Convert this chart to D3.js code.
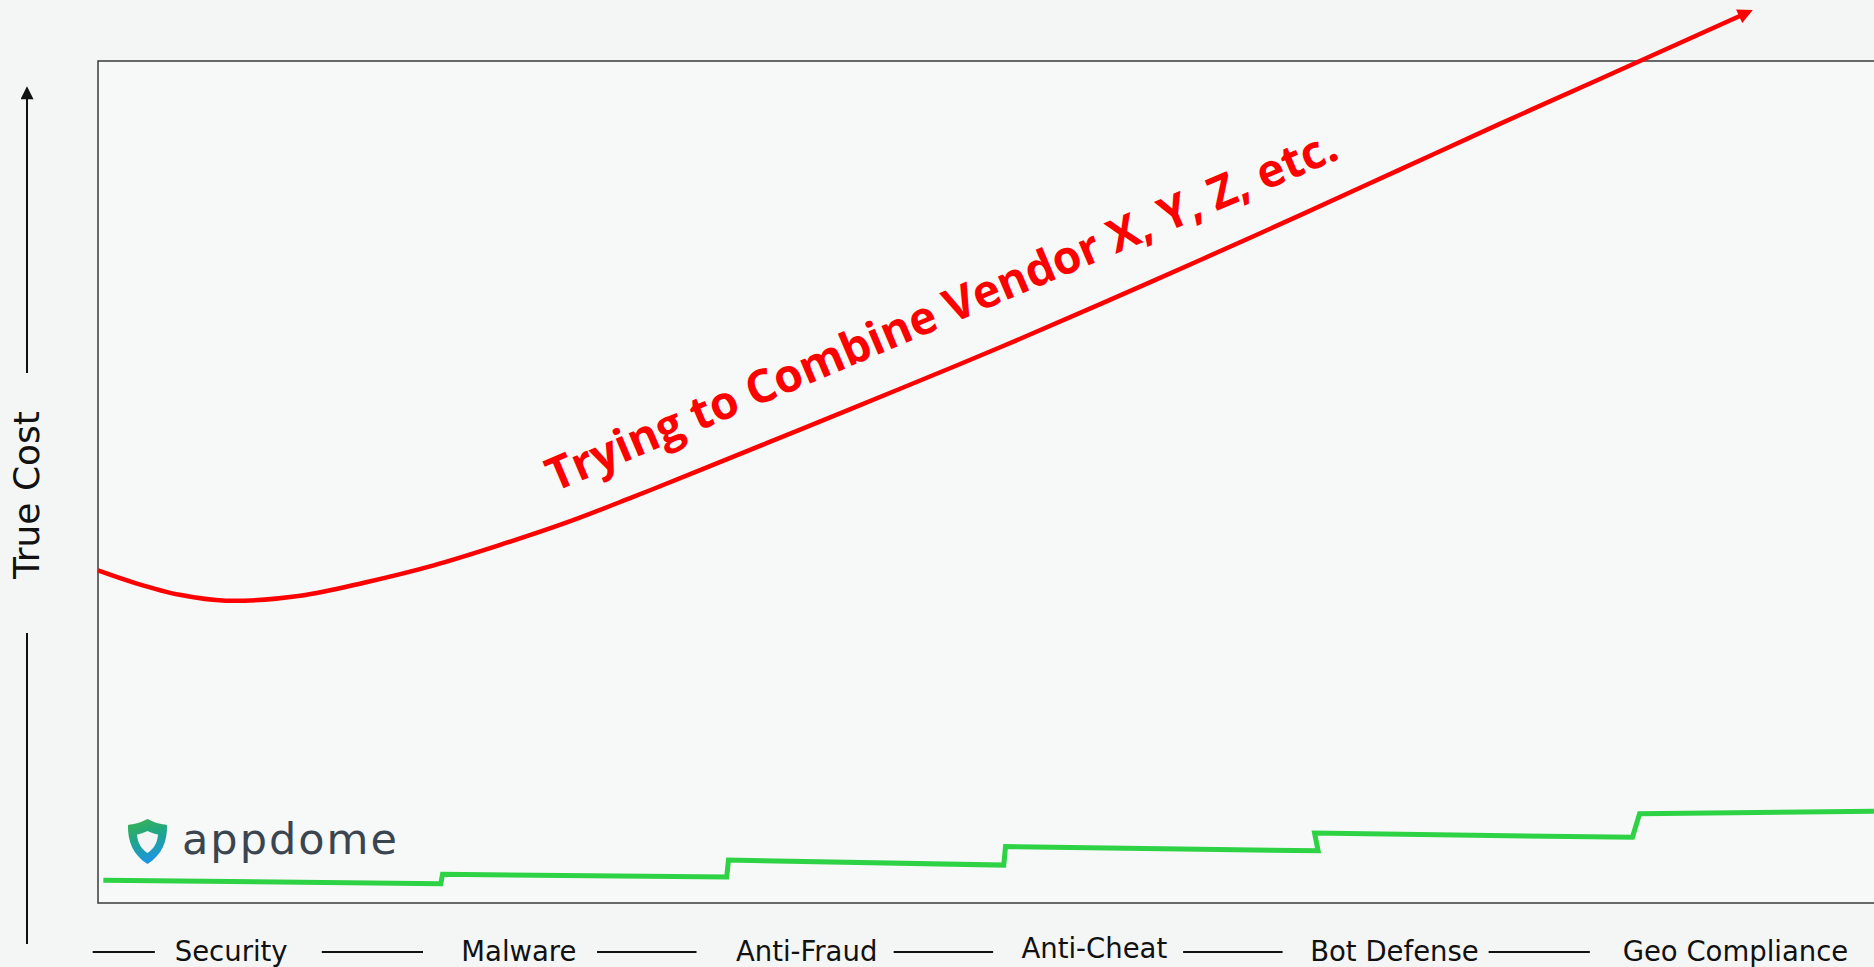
<!DOCTYPE html>
<html>
<head>
<meta charset="utf-8">
<script src="https://cdn.jsdelivr.net/npm/d3@7"></script>
<style>
  html, body { margin: 0; padding: 0; background: #f4f5f5; overflow: hidden; }
  svg { display: block; }
</style>
</head>
<body>
<div class="cost_area"></div>
<script>
// features along the x axis (position = centre of label, in "features added" units 0..100)
var features = ["Security", "Malware", "Anti-Fraud", "Anti-Cheat", "Bot Defense", "Geo Compliance"];
var featureAt = [7.5, 23.7, 39.9, 56.1, 73.0, 92.2];
// connector dashes between the feature labels [from, to]
var dashSegs = [[-0.3, 3.2], [12.6, 18.3], [28.1, 33.7], [44.8, 50.4], [61.1, 66.7], [78.3, 84.0]];

// red: trying to combine vendors
var vendorX = [0, 2.1, 4.6, 7.2, 11.4, 15.1, 18.9, 22.6, 26.4, 30.1, 33.9, 39.5, 45.2, 50.8, 56.4, 62.1, 67.7, 73.3, 78.9, 84.6, 92.6];
var vendorY = [39.5, 38.0, 36.6, 35.9, 36.5, 38.1, 40.1, 42.5, 45.2, 48.2, 51.4, 56.2, 61.1, 66.0, 71.1, 76.4, 81.7, 87.1, 92.5, 97.9, 105.5];

// green: appdome, one small step per feature
var appdomeX = [0.3, 19.3, 19.4, 35.4, 35.5, 51.0, 51.1, 68.7, 68.5, 86.4, 86.8, 100.5];
var appdomeY = [2.7, 2.3, 3.4, 3.1, 5.1, 4.5, 6.7, 6.2, 8.3, 7.8, 10.6, 10.9];

var vendorLabel = "Trying to Combine Vendor X, Y, Z, etc.";
var vendorLabelAt = [25.7, 48.8];
var axisTitle = "True Cost";

var width = 1874, height = 967;
var box = { left: 98, top: 61, bottom: 903 };

var svg = d3.select(".cost_area").append("svg")
  .attr("width", width)
  .attr("height", height);

var x = d3.scaleLinear().domain([0, 100]).range([box.left, 1874]);
var y = d3.scaleLinear().domain([0, 100]).range([box.bottom, box.top]);

var defs = svg.append("defs");
defs.append("marker")
  .attr("id", "redHead")
  .attr("viewBox", "0 0 10 10")
  .attr("refX", 2.5).attr("refY", 5)
  .attr("markerUnits", "userSpaceOnUse")
  .attr("markerWidth", 19).attr("markerHeight", 15)
  .attr("orient", "auto")
  .append("path").attr("d", "M0,0L10,5L0,10z").attr("fill", "#ff0000");
defs.append("marker")
  .attr("id", "blackHead")
  .attr("viewBox", "0 0 10 10")
  .attr("refX", 1).attr("refY", 5)
  .attr("markerUnits", "userSpaceOnUse")
  .attr("markerWidth", 14).attr("markerHeight", 13)
  .attr("orient", "auto")
  .append("path").attr("d", "M0,0L10,5L0,10z").attr("fill", "#111");
var grad = defs.append("linearGradient").attr("id", "shieldGrad")
  .attr("x1", 0).attr("y1", 0).attr("x2", 0.3).attr("y2", 1);
grad.append("stop").attr("offset", "0%").attr("stop-color", "#3db54a");
grad.append("stop").attr("offset", "50%").attr("stop-color", "#1fa58a");
grad.append("stop").attr("offset", "100%").attr("stop-color", "#1e95e0");

// plot frame
svg.append("rect")
  .attr("x", box.left).attr("y", box.top)
  .attr("width", width + 20 - box.left).attr("height", box.bottom - box.top)
  .attr("fill", "#f7f8f8")
  .attr("stroke", "#3a3a3a")
  .attr("stroke-width", 1.5);

// y axis title with arrow
var ax = 27;
svg.append("line")
  .attr("x1", ax).attr("x2", ax).attr("y1", 373).attr("y2", 98)
  .attr("stroke", "#111").attr("stroke-width", 2)
  .attr("marker-end", "url(#blackHead)");
svg.append("line")
  .attr("x1", ax).attr("x2", ax).attr("y1", 633).attr("y2", 944)
  .attr("stroke", "#111").attr("stroke-width", 2);
svg.append("text")
  .attr("transform", "translate(" + (ax + 12) + ",495) rotate(-90)")
  .attr("text-anchor", "middle")
  .style("font-family", "'DejaVu Sans', sans-serif")
  .style("font-size", "36px")
  .style("fill", "#111")
  .text(axisTitle);

// x axis: feature labels joined by dashes
svg.append("g").selectAll("line")
  .data(dashSegs)
  .enter().append("line")
  .attr("x1", function (d) { return x(d[0]); })
  .attr("x2", function (d) { return x(d[1]); })
  .attr("y1", 952).attr("y2", 952)
  .attr("stroke", "#111").attr("stroke-width", 2);

svg.append("g").selectAll("text")
  .data(features)
  .enter().append("text")
  .attr("x", function (d, i) { return x(featureAt[i]); })
  .attr("y", function (d, i) { return d == "Anti-Cheat" ? 958 : 961; })
  .attr("text-anchor", "middle")
  .style("font-family", "'DejaVu Sans', sans-serif")
  .style("font-size", "27.5px")
  .style("fill", "#111")
  .text(function (d) { return d; });

// appdome logo
var logo = svg.append("g").attr("transform", "translate(128,819)");
logo.append("path")
  .attr("d", "M19.5,0 C27,4 33,5 39,6 C39.5,22 34,36 19.5,45 C5,36 -0.5,22 0,6 C6,5 12,4 19.5,0Z")
  .attr("fill", "url(#shieldGrad)");
logo.append("path")
  .attr("d", "M19.5,12 C23.5,14 27,15 30,15.5 C29.5,24 25.5,30 19.5,34 C13.5,30 9.5,24 9,15.5 C12,15 15.5,14 19.5,12Z")
  .attr("fill", "#f4f5f5");
logo.append("text")
  .attr("x", 54).attr("y", 35)
  .style("font-family", "'DejaVu Sans', sans-serif")
  .style("font-size", "43px")
  .style("letter-spacing", "2px")
  .style("fill", "#3b4550")
  .text("appdome");

// lines
var line = d3.line()
  .x(function (d) { return x(d[0]); })
  .y(function (d) { return y(d[1]); });

svg.append("path")
  .datum(d3.zip(appdomeX, appdomeY))
  .attr("d", line)
  .attr("fill", "none")
  .attr("stroke", "#2ed245")
  .attr("stroke-width", 5)
  .attr("stroke-linejoin", "miter");

svg.append("path")
  .datum(d3.zip(vendorX, vendorY))
  .attr("d", line.curve(d3.curveCatmullRom.alpha(0.5)))
  .attr("fill", "none")
  .attr("stroke", "#ff0000")
  .attr("stroke-width", 4.5)
  .attr("marker-end", "url(#redHead)");

svg.append("text")
  .attr("transform", "translate(" + x(vendorLabelAt[0]) + "," + y(vendorLabelAt[1]) + ") rotate(-23)")
  .style("font-family", "'Open Sans', sans-serif")
  .style("font-weight", "bold")
  .style("font-size", "46px")
  .style("fill", "#ff0000")
  .text(vendorLabel);
</script>
</body>
</html>
